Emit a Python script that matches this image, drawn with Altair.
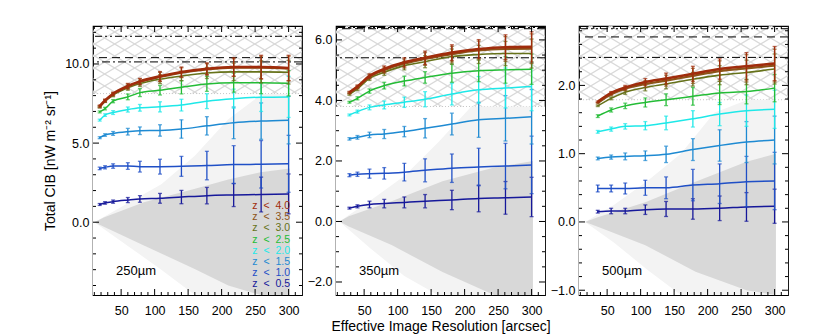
import altair as alt
import pandas as pd
import numpy as np

# ---------------- data ----------------
Z_LABELS = ["0.5", "1.0", "1.5", "2.0", "2.5", "3.0", "3.5", "4.0"]
Z_COLORS = ["#16189a", "#1f4fc6", "#1e8ad2", "#1ee8e8", "#24bc36", "#66721a", "#8c5418", "#a02c0c"]
Z_WIDTHS = [1.5, 1.5, 1.5, 1.5, 1.5, 1.6, 2.2, 2.6]

X_MAJOR = [50, 100, 150, 200, 250, 300]

# 250 micron
X250 = [18, 26, 38, 60, 78, 108, 140, 178, 218, 259, 300]
Y250_Z05 = [1.12, 1.22, 1.30, 1.40, 1.47, 1.51, 1.59, 1.68, 1.72, 1.75, 1.79]
Y250_Z10 = [3.40, 3.47, 3.55, 3.55, 3.51, 3.51, 3.53, 3.58, 3.64, 3.66, 3.69]
Y250_Z15 = [5.34, 5.51, 5.61, 5.72, 5.78, 5.80, 5.89, 6.09, 6.28, 6.39, 6.45]
Y250_Z20 = [6.45, 6.77, 6.93, 7.12, 7.23, 7.29, 7.40, 7.65, 7.81, 7.90, 7.92]
Y250_Z25 = [6.97, 7.18, 7.65, 7.92, 8.19, 8.34, 8.53, 8.74, 8.82, 8.82, 8.78]
Y250_Z30 = [7.27, 7.65, 8.03, 8.49, 8.76, 9.04, 9.24, 9.43, 9.50, 9.50, 9.48]
Y250_Z35 = [7.31, 7.67, 8.08, 8.57, 8.86, 9.18, 9.45, 9.66, 9.77, 9.77, 9.71]
Y250_Z40 = [7.34, 7.70, 8.12, 8.61, 8.90, 9.22, 9.49, 9.70, 9.81, 9.81, 9.75]
E250_Z05 = [0.06, 0.08, 0.10, 0.16, 0.21, 0.31, 0.42, 0.52, 0.73, 1.10, 1.26]
E250_Z10 = [0.08, 0.10, 0.14, 0.21, 0.34, 0.47, 0.63, 0.90, 1.20, 1.50, 1.80]
E250_Z15 = [0.06, 0.08, 0.12, 0.21, 0.24, 0.36, 0.58, 0.58, 1.00, 1.15, 1.50]
E250_Z20 = [0.06, 0.08, 0.12, 0.16, 0.21, 0.32, 0.37, 0.47, 0.60, 0.90, 1.30]
E250_Z25 = [0.06, 0.08, 0.10, 0.18, 0.25, 0.30, 0.42, 0.47, 0.60, 0.70, 0.80]
E250_Z30 = [0.06, 0.08, 0.10, 0.15, 0.18, 0.28, 0.30, 0.35, 0.55, 0.70, 0.75]
E250_Z35 = [0.06, 0.08, 0.10, 0.16, 0.19, 0.29, 0.31, 0.36, 0.56, 0.72, 0.78]
E250_Z40 = [0.06, 0.08, 0.10, 0.16, 0.19, 0.30, 0.32, 0.37, 0.58, 0.74, 0.80]

# 350 micron
X350 = [28, 40, 58, 80, 110, 141, 181, 221, 261, 300]
Y350_Z05 = [0.44, 0.50, 0.56, 0.59, 0.63, 0.67, 0.71, 0.76, 0.78, 0.81]
Y350_Z10 = [1.53, 1.56, 1.58, 1.59, 1.63, 1.69, 1.76, 1.80, 1.83, 1.87]
Y350_Z15 = [2.73, 2.78, 2.86, 2.89, 2.97, 3.08, 3.22, 3.36, 3.41, 3.46]
Y350_Z20 = [3.52, 3.63, 3.77, 3.85, 3.94, 4.04, 4.21, 4.35, 4.41, 4.46]
Y350_Z25 = [3.94, 4.07, 4.31, 4.49, 4.64, 4.76, 4.90, 4.98, 5.01, 5.03]
Y350_Z30 = [4.20, 4.38, 4.73, 4.93, 5.15, 5.28, 5.45, 5.52, 5.55, 5.55]
Y350_Z35 = [4.24, 4.43, 4.78, 5.00, 5.22, 5.37, 5.53, 5.65, 5.70, 5.71]
Y350_Z40 = [4.27, 4.46, 4.81, 5.04, 5.26, 5.41, 5.58, 5.70, 5.76, 5.77]
E350_Z05 = [0.03, 0.05, 0.11, 0.14, 0.18, 0.22, 0.32, 0.44, 0.54, 0.65]
E350_Z10 = [0.05, 0.07, 0.15, 0.19, 0.29, 0.38, 0.47, 0.62, 0.75, 0.95]
E350_Z15 = [0.04, 0.06, 0.09, 0.15, 0.17, 0.32, 0.36, 0.58, 0.75, 0.90]
E350_Z20 = [0.03, 0.05, 0.08, 0.13, 0.17, 0.25, 0.36, 0.44, 0.66, 0.80]
E350_Z25 = [0.03, 0.05, 0.07, 0.11, 0.16, 0.19, 0.30, 0.36, 0.44, 0.50]
E350_Z30 = [0.03, 0.05, 0.07, 0.10, 0.14, 0.20, 0.25, 0.30, 0.40, 0.48]
E350_Z35 = [0.03, 0.05, 0.07, 0.10, 0.15, 0.21, 0.26, 0.31, 0.41, 0.49]
E350_Z40 = [0.03, 0.05, 0.07, 0.10, 0.15, 0.22, 0.26, 0.31, 0.41, 0.50]

# 500 micron
X500 = [36, 56, 77, 107, 138, 178, 218, 258, 300]
Y500_Z05 = [0.15, 0.16, 0.16, 0.18, 0.19, 0.19, 0.20, 0.22, 0.23]
Y500_Z10 = [0.49, 0.49, 0.49, 0.50, 0.50, 0.54, 0.56, 0.59, 0.60]
Y500_Z15 = [0.93, 0.95, 0.96, 0.97, 0.99, 1.06, 1.12, 1.17, 1.20]
Y500_Z20 = [1.32, 1.36, 1.40, 1.41, 1.45, 1.51, 1.58, 1.63, 1.65]
Y500_Z25 = [1.55, 1.64, 1.70, 1.75, 1.79, 1.84, 1.89, 1.91, 1.96]
Y500_Z30 = [1.70, 1.81, 1.90, 1.97, 2.02, 2.09, 2.15, 2.19, 2.24]
Y500_Z35 = [1.74, 1.87, 1.95, 2.02, 2.07, 2.14, 2.21, 2.25, 2.29]
Y500_Z40 = [1.76, 1.89, 1.97, 2.05, 2.10, 2.17, 2.24, 2.28, 2.32]
E500_Z05 = [0.02, 0.04, 0.04, 0.07, 0.11, 0.15, 0.18, 0.21, 0.25]
E500_Z10 = [0.05, 0.05, 0.08, 0.11, 0.16, 0.23, 0.29, 0.37, 0.42]
E500_Z15 = [0.02, 0.03, 0.05, 0.07, 0.12, 0.16, 0.23, 0.30, 0.35]
E500_Z20 = [0.02, 0.03, 0.04, 0.06, 0.10, 0.12, 0.17, 0.23, 0.28]
E500_Z25 = [0.02, 0.03, 0.04, 0.066, 0.086, 0.13, 0.17, 0.18, 0.20]
E500_Z30 = [0.01, 0.02, 0.03, 0.05, 0.07, 0.10, 0.14, 0.18, 0.22]
E500_Z35 = [0.01, 0.02, 0.03, 0.05, 0.08, 0.11, 0.15, 0.20, 0.24]
E500_Z40 = [0.01, 0.02, 0.03, 0.05, 0.08, 0.11, 0.15, 0.20, 0.25]

# grey cloud of realisations (dense core and sparse envelope)
CLOUD250_X = [10, 25, 84, 159, 210, 258, 302]
CLOUD250_HI = [0, 0.31, 1.26, 2.10, 2.70, 3.15, 3.40]
CLOUD250_LO = [0, -0.31, -1.47, -2.94, -4.0, -4.6, -4.6]
SPARSE250_X = [10, 60, 110, 160, 210, 260, 302]
SPARSE250_HI = [0, 1.2, 2.4, 4.2, 6.5, 8.1, 8.1]
SPARSE250_LO = [0, -1.5, -3.0, -4.6, -4.6, -4.6, -4.6]

CLOUD350_X = [13, 27, 91, 167, 244, 302]
CLOUD350_HI = [0, 0.17, 0.67, 1.33, 1.78, 2.0]
CLOUD350_LO = [0, -0.17, -0.78, -1.67, -2.43, -2.43]
SPARSE350_X = [13, 60, 110, 160, 210, 260, 302]
SPARSE350_HI = [0, 0.7, 1.5, 2.6, 3.8, 3.8, 3.8]
SPARSE350_LO = [0, -0.9, -1.8, -2.43, -2.43, -2.43, -2.43]

CLOUD500_X = [17, 36, 107, 182, 258, 302]
CLOUD500_HI = [0, 0.07, 0.29, 0.59, 0.88, 1.0]
CLOUD500_LO = [0, -0.07, -0.34, -0.73, -1.0, -1.07]
SPARSE500_X = [17, 60, 110, 160, 210, 260, 302]
SPARSE500_HI = [0, 0.25, 0.6, 1.0, 1.6, 1.79, 1.79]
SPARSE500_LO = [0, -0.3, -0.7, -1.07, -1.07, -1.07, -1.07]

# horizontal reference levels
REF250 = [11.75, 10.40, 10.13]
REF350 = [6.41, 6.37, 5.41]
REF500 = [2.83, 2.71, 2.41]
REF_DASH = [[7, 3, 2, 3, 2, 3], [8, 5], [8, 3, 2, 3]]
HATCH_BOTTOM = [8.13, 3.80, 1.79]

YDOM250 = [-4.6, 12.4]
YDOM350 = [-2.43, 6.46]
YDOM500 = [-1.07, 2.87]

YMAJ250 = [0.0, 5.0, 10.0]
YMAJ350 = [-2.0, 0.0, 2.0, 4.0, 6.0]
YMAJ500 = [-1.0, 0.0, 1.0, 2.0]
YMINOR_STEP = [1.0, 0.5, 0.2]

NB = "\u00a0"
LEGEND_TEXT = [f"z{NB}{NB}<{NB}{NB}{v}" for v in ["4.0", "3.5", "3.0", "2.5", "2.0", "1.5", "1.0", "0.5"]]
PANEL_LABELS = ["250\u00b5m", "350\u00b5m", "500\u00b5m"]

# ---------------- layout ----------------
W, H = 209, 269
XDOM = [8, 320]
FONT = "Liberation Sans"


def hatch_frame(ydom):
    s, d = 0.6, 20.0
    span = H / s
    rows = []
    c = -span
    while c < W + span:
        rows.append((c, 0.0, c + span, float(H)))
        rows.append((c, 0.0, c - span, float(H)))
        c += d
    fx = lambda p: XDOM[0] + p / W * (XDOM[1] - XDOM[0])
    fy = lambda p: ydom[1] - p / H * (ydom[1] - ydom[0])
    return pd.DataFrame([dict(x=fx(a), y=fy(b), x2=fx(c2), y2=fy(d2)) for a, b, c2, d2 in rows])


def panel(idx, xs, ys, es, ydom, ymaj, ystep, refs, hb, dense, sparse, ytitle, xtitle):
    xsc = alt.Scale(domain=XDOM, nice=False, zero=False)
    ysc = alt.Scale(domain=ydom, nice=False, zero=False)
    xaxis = alt.Axis(values=X_MAJOR, format="d", ticks=False, domain=False, grid=False,
                     labelPadding=9, title=xtitle, titlePadding=3)
    yaxis = alt.Axis(values=ymaj, format=".1f", ticks=False, domain=False, grid=False,
                     labelPadding=4, title=ytitle, titlePadding=7)

    def X(f):
        return alt.X(f, type="quantitative", scale=xsc, axis=xaxis)

    def Y(f):
        return alt.Y(f, type="quantitative", scale=ysc, axis=yaxis)

    layers = []
    # cross hatch in the excluded zone
    hdf = hatch_frame(ydom)
    layers.append(alt.Chart(hdf).mark_rule(color="#d9d9d9", strokeWidth=1.3, clip=True).encode(
        x=X("x"), y=Y("y"), x2="x2:Q", y2="y2:Q"))
    cover = pd.DataFrame({"a": [hb], "b": [ydom[0]]})
    layers.append(alt.Chart(cover).mark_rect(color="white").encode(
        y=Y("a"), y2="b:Q", x=alt.value(0), x2=alt.value(W)))
    layers.append(alt.Chart(pd.DataFrame({"v": [hb]})).mark_rule(
        color="#c8c8c8", strokeDash=[1, 2], strokeWidth=1).encode(y=Y("v")))

    # grey cloud
    sx, shi, slo = sparse
    sdf = pd.DataFrame({"x": sx, "hi": shi, "lo": slo})
    layers.append(alt.Chart(sdf).mark_area(color="#f3f3f3", clip=True).encode(
        x=X("x"), y=Y("hi"), y2="lo:Q"))
    dx, dhi, dlo = dense
    ddf = pd.DataFrame({"x": dx, "hi": dhi, "lo": dlo})
    layers.append(alt.Chart(ddf).mark_area(color="#d8d8d8", clip=True).encode(
        x=X("x"), y=Y("hi"), y2="lo:Q"))

    # reference levels
    for v, dash in zip(refs, REF_DASH):
        layers.append(alt.Chart(pd.DataFrame({"v": [v]})).mark_rule(
            color="black", strokeWidth=1, strokeDash=dash).encode(y=Y("v")))

    # curves with error bars
    for k in range(8):
        yv = np.array(ys[k], dtype=float)
        ev = np.array(es[k], dtype=float)
        df = pd.DataFrame({"x": xs, "y": yv, "lo": yv - ev, "hi": yv + ev})
        col = Z_COLORS[k]
        base = alt.Chart(df)
        layers.append(base.mark_rule(color=col, strokeWidth=1.3, clip=True).encode(
            x=X("x"), y=Y("lo"), y2="hi:Q"))
        layers.append(base.mark_tick(color=col, orient="horizontal", size=4, thickness=1.3, clip=True).encode(
            x=X("x"), y=Y("lo")))
        layers.append(base.mark_tick(color=col, orient="horizontal", size=4, thickness=1.3, clip=True).encode(
            x=X("x"), y=Y("hi")))
        layers.append(base.mark_line(color=col, strokeWidth=Z_WIDTHS[k], interpolate="monotone", clip=True).encode(
            x=X("x"), y=Y("y")))

    # IDL-style inward ticks on all four sides
    ymin_vals = [round(v, 3) for v in np.arange(np.ceil(ydom[0] / ystep) * ystep, ydom[1], ystep)]
    ymin_vals = [v for v in ymin_vals if all(abs(v - m) > 1e-6 for m in ymaj)]
    xmin_vals = [v for v in range(10, 320, 10) if v not in X_MAJOR]
    for vals, ln in ((ymaj, 6), (ymin_vals, 3)):
        d = pd.DataFrame({"v": vals})
        layers.append(alt.Chart(d).mark_rule(color="black", strokeWidth=1).encode(
            y=Y("v"), x=alt.value(0), x2=alt.value(ln)))
        layers.append(alt.Chart(d).mark_rule(color="black", strokeWidth=1).encode(
            y=Y("v"), x=alt.value(W - ln), x2=alt.value(W)))
    for vals, ln in ((X_MAJOR, 6), (xmin_vals, 3)):
        d = pd.DataFrame({"v": vals})
        layers.append(alt.Chart(d).mark_rule(color="black", strokeWidth=1).encode(
            x=X("v"), y=alt.value(H), y2=alt.value(H - ln)))
        layers.append(alt.Chart(d).mark_rule(color="black", strokeWidth=1).encode(
            x=X("v"), y=alt.value(0), y2=alt.value(ln)))

    # panel label
    layers.append(alt.Chart(pd.DataFrame({"t": [PANEL_LABELS[idx]]})).mark_text(
        align="left", baseline="middle", fontSize=13, font=FONT, color="black").encode(
        text="t:N", x=alt.value(23), y=alt.value(245)))

    # colour key (first panel only)
    if idx == 0:
        for i, t in enumerate(LEGEND_TEXT):
            layers.append(alt.Chart(pd.DataFrame({"t": [t]})).mark_text(
                align="right", baseline="middle", fontSize=10.5, font=FONT,
                color=Z_COLORS[7 - i]).encode(
                text="t:N", x=alt.value(197), y=alt.value(180 + i * 11.2)))

    return alt.layer(*layers).properties(width=W, height=H)


p1 = panel(0, X250,
           [Y250_Z05, Y250_Z10, Y250_Z15, Y250_Z20, Y250_Z25, Y250_Z30, Y250_Z35, Y250_Z40],
           [E250_Z05, E250_Z10, E250_Z15, E250_Z20, E250_Z25, E250_Z30, E250_Z35, E250_Z40],
           YDOM250, YMAJ250, YMINOR_STEP[0], REF250, HATCH_BOTTOM[0],
           (CLOUD250_X, CLOUD250_HI, CLOUD250_LO), (SPARSE250_X, SPARSE250_HI, SPARSE250_LO),
           "Total CIB [nW m\u207b\u00b2 sr\u207b\u00b9]", None)
p2 = panel(1, X350,
           [Y350_Z05, Y350_Z10, Y350_Z15, Y350_Z20, Y350_Z25, Y350_Z30, Y350_Z35, Y350_Z40],
           [E350_Z05, E350_Z10, E350_Z15, E350_Z20, E350_Z25, E350_Z30, E350_Z35, E350_Z40],
           YDOM350, YMAJ350, YMINOR_STEP[1], REF350, HATCH_BOTTOM[1],
           (CLOUD350_X, CLOUD350_HI, CLOUD350_LO), (SPARSE350_X, SPARSE350_HI, SPARSE350_LO),
           None, "Effective Image Resolution [arcsec]")
p3 = panel(2, X500,
           [Y500_Z05, Y500_Z10, Y500_Z15, Y500_Z20, Y500_Z25, Y500_Z30, Y500_Z35, Y500_Z40],
           [E500_Z05, E500_Z10, E500_Z15, E500_Z20, E500_Z25, E500_Z30, E500_Z35, E500_Z40],
           YDOM500, YMAJ500, YMINOR_STEP[2], REF500, HATCH_BOTTOM[2],
           (CLOUD500_X, CLOUD500_HI, CLOUD500_LO), (SPARSE500_X, SPARSE500_HI, SPARSE500_LO),
           None, None)

chart = alt.hconcat(p1, p2, p3, spacing=34, bounds="flush").properties(
    padding={"left": 35, "top": 16, "right": 5, "bottom": 2}
).configure_view(stroke="black", strokeWidth=1.2).configure_axis(
    labelFont=FONT, labelFontSize=12.5, labelColor="black",
    titleFont=FONT, titleFontSize=14, titleColor="black", titleFontWeight="normal"
)

chart.save("out.html", embed_options={"renderer": "svg", "actions": False})
